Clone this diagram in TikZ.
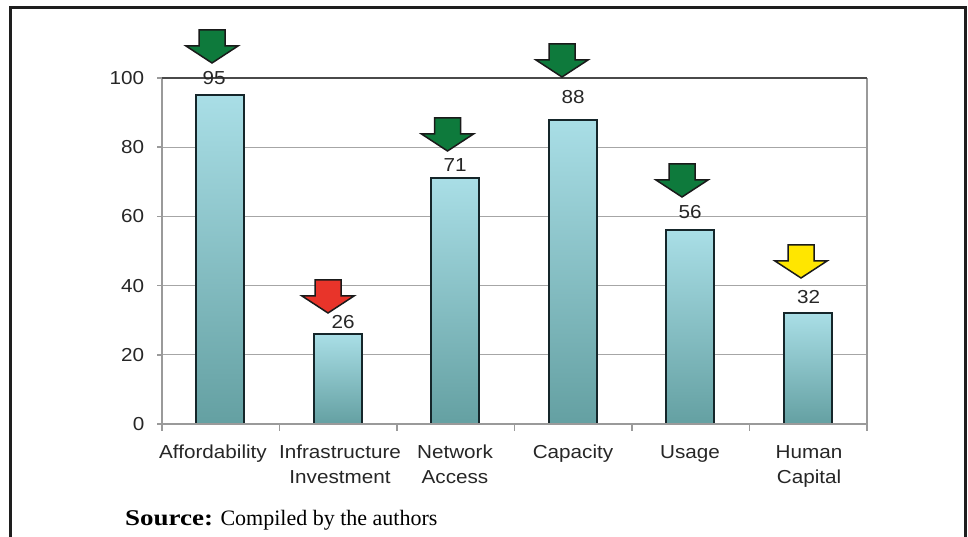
\documentclass[tikz,border=0pt]{standalone}
\usepackage{fontspec}
\setmainfont{Liberation Serif}
\newfontfamily\chartfont[FakeStretch=1.1]{Liberation Sans}
\newfontfamily\sourcebold[FakeStretch=1.2]{Liberation Serif Bold}
\usepackage{xcolor}
\usetikzlibrary{positioning,calc}

\definecolor{frameblack}{HTML}{1E1E1E}
\definecolor{gridgray}{HTML}{A6A6A6}
\definecolor{topgray}{HTML}{4A4A4A}
\definecolor{axisgray}{HTML}{9A9A9A}
\definecolor{baredge}{HTML}{15262A}
\definecolor{bartop}{HTML}{A9DEE6}
\definecolor{barbottom}{HTML}{64A0A2}
\definecolor{textgray}{HTML}{262626}
\definecolor{arrowedge}{HTML}{1A1A1A}
\definecolor{arrowgreen}{HTML}{0E7A3C}
\definecolor{arrowred}{HTML}{E8342A}
\definecolor{arrowyellow}{HTML}{FFE600}

\tikzset{
    downmark/.pic={
        \path[marker, pic actions] (0,0) -- (-26,17) -- (-13,17) -- (-13,33)
            -- (13,33) -- (13,17) -- (26,17) -- cycle;
    }
}

\begin{document}
\begin{tikzpicture}[
    x=1pt, y=1pt,
    % Stili per le linee
    frameline/.style={line width=3pt, draw=frameblack, line join=miter},
    gridline/.style={line width=1.2pt, draw=gridgray},
    topline/.style={line width=1.6pt, draw=topgray},
    axisline/.style={line width=1.5pt, draw=axisgray},
    % Stili per le barre e i marcatori
    bar/.style={draw=baredge, line width=2pt, top color=bartop, bottom color=barbottom},
    marker/.style={draw=arrowedge, line width=1.5pt, line join=miter},
    % Stili per il testo
    ticktext/.style={font=\chartfont\fontsize{18.8pt}{25pt}\selectfont, text=textgray, inner sep=0pt},
    cattext/.style={ticktext, align=center, anchor=north},
    valuetext/.style={ticktext},
    sourcetext/.style={font=\fontsize{22pt}{26pt}\selectfont, inner sep=0pt, anchor=base west}
]
\useasboundingbox (0,0) rectangle (968,537);

% === CORNICE ===
\draw[frameline] (10,-3) -- (10,529) -- (965,529) -- (965,-3);

% === AREA DEL GRAFICO ===
\begin{scope}[shift={(162pt,113pt)}, x=117.5pt, y=3.46pt]
    % griglia
    \foreach \v in {20,40,60,80}
        \draw[gridline] (0,\v) -- (6,\v);
    % barre
    \foreach \val [count=\i] in {95,26,71,88,56,32}
        \draw[bar] (\i-0.71,0) rectangle (\i-0.3,\val);
    % assi
    \draw[axisline] (0,100) -- (0,0) -- (6,0) -- (6,100);
    \draw[topline] (0,100) ++(-5pt,0) -- (6,100);
    \foreach \v in {0,20,...,100}
        \draw[axisline] (0,\v) -- ++(-5pt,0) node[ticktext, anchor=east, xshift=-12pt] (y\v) {\v};
    \foreach \i in {0,...,6}
        \draw[axisline] (\i,0) -- ++(0,-7pt);
\end{scope}

% === ETICHETTE DELLE CATEGORIE ===
\node[cattext] (affordability) at (213,92) {Affordability};
\node[cattext] (infrastructure) at (340,92) {Infrastructure\\Investment};
\node[cattext] (network) at (455,92) {Network\\Access};
\node[cattext] (capacity) at (573,92) {Capacity};
\node[cattext] (usage) at (690,92) {Usage};
\node[cattext] (human) at (809,92) {Human\\Capital};

% === VALORI ===
\node[valuetext] (v95) at (214,459) {95};
\node[valuetext] (v26) at (343,215) {26};
\node[valuetext] (v71) at (455,372) {71};
\node[valuetext] (v88) at (573,440) {88};
\node[valuetext] (v56) at (690,325) {56};
\node[valuetext] (v32) at (808.5,240) {32};

% === FRECCE ===
\pic[fill=arrowgreen] (m1) at (212,474) {downmark};
\pic[fill=arrowred] (m2) at (328,224) {downmark};
\pic[fill=arrowgreen] (m3) at (447.5,386) {downmark};
\pic[fill=arrowgreen] (m4) at (562,460) {downmark};
\pic[fill=arrowgreen] (m5) at (682,340) {downmark};
\pic[fill=arrowyellow] (m6) at (801,259) {downmark};

% === FONTE ===
\node[sourcetext] (source) at (125,11) {{\sourcebold\fontsize{22.5pt}{26pt}\selectfont Source:} Compiled by the authors};

\end{tikzpicture}
\end{document}
